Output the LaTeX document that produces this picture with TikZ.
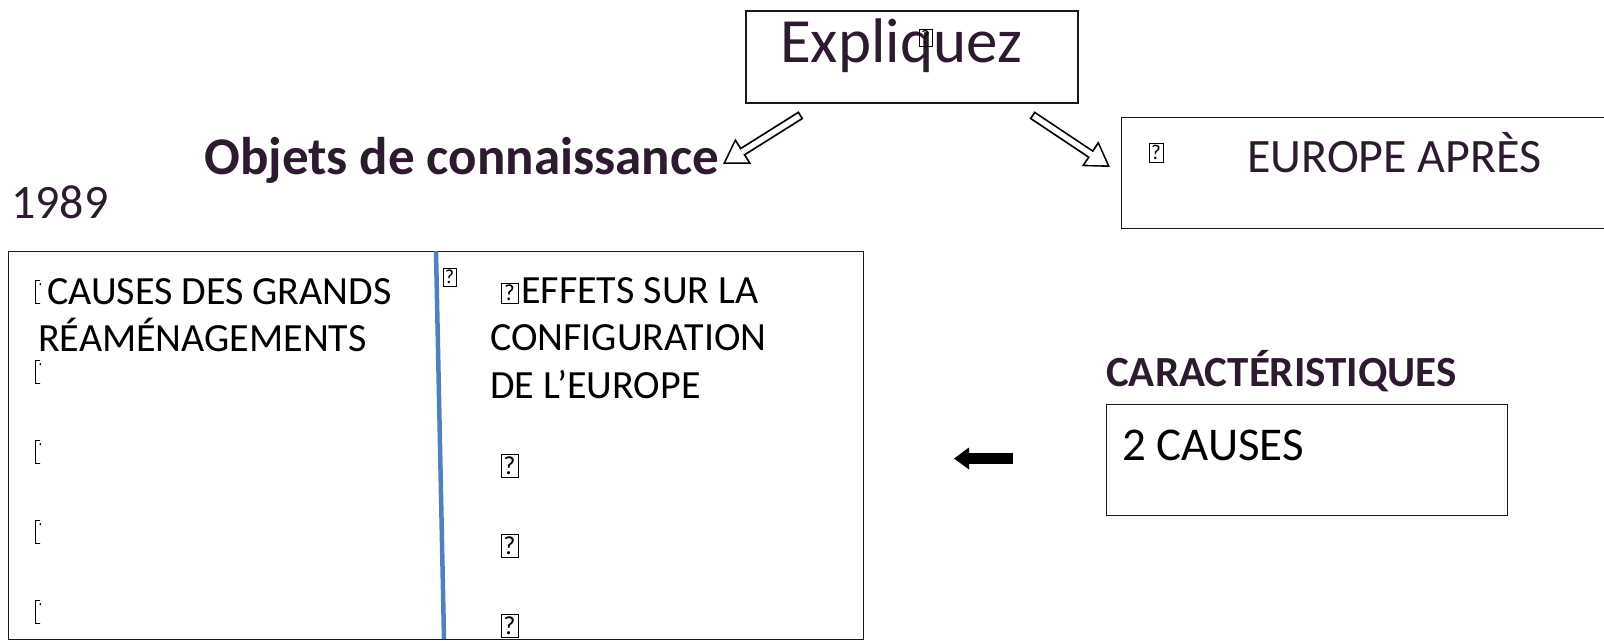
\documentclass[tikz,border=0pt]{standalone}
\usepackage{fontspec}
\setmainfont{Carlito}
\usetikzlibrary{arrows.meta,positioning,calc}
\definecolor{plum}{RGB}{46,26,48}
\definecolor{divblue}{RGB}{79,129,189}
\newcommand{\pxfont}[2]{\fontsize{#1}{#2}\selectfont}

\begin{document}
\begin{tikzpicture}[x=1pt, y=-1pt,
    frame/.style={draw=black!90, line width=1.4pt, inner sep=0pt},
    label/.style={inner sep=0pt, anchor=base west},
    tofu/.style={draw, line width=0.8pt, inner sep=0pt, minimum width=17pt,
        minimum height=23pt, font=\pxfont{26}{26}},
    hollow/.style={line width=9pt, -{Triangle[length=24pt,width=30pt,line width=0pt]},
        postaction={draw=white, line width=5.4pt, shorten <=1.8pt, shorten >=3.2pt,
        -{Triangle[length=19pt,width=24pt,line width=0pt]}}}]

    \useasboundingbox (0,0) rectangle (1604,640);

    % ---------------- Expliquez ----------------
    \node[frame, minimum width=332pt, minimum height=92pt] (explbox) at (912,57) {};
    \node[label, text=plum, font=\pxfont{63}{63}] (expl) at (780,62) {Expliquez};
    \node[tofu, minimum width=13pt, minimum height=17pt, font=\pxfont{19}{19}] (expltofu) at (925.5,37.5) {?};

    % ---------------- Objets / 1989 ----------------
    \node[label, text=plum, font=\bfseries\pxfont{53}{53}] (objets) at (204,174) {Objets de connaissance};
    \node[label, text=plum, font=\pxfont{48}{48}] (year) at (11,218) {1989};

    % ---------------- Europe après ----------------
    \node[frame, minimum width=490pt, minimum height=111pt, anchor=north west] (europebox) at (1121,117) {};
    \node[label, text=plum, font=\pxfont{48}{48}] (europe) at (1247,172) {EUROPE APRÈS};
    \node[tofu, minimum width=14pt, minimum height=19pt, font=\pxfont{21}{21}] (europetofu) at (1156,152.5) {?};

    % ---------------- Arrows ----------------
    \coordinate (lstart) at (801,115);
    \coordinate (ltip) at (723,164);
    \coordinate (rstart) at (1032,115);
    \coordinate (rtip) at (1110,167);
    \draw[hollow] (lstart) -- (ltip);
    \draw[hollow] (rstart) -- (rtip);

    % ---------------- Causes / Effets ----------------
    \node[frame, minimum width=855pt, minimum height=388pt, anchor=north west] (tablebox) at (8,251) {};
    \draw[divblue, line width=4.5pt] (436,251) -- (444,639);

    \node[label, font=\pxfont{40}{40}] (causes1) at (47,304) {CAUSES DES GRANDS};
    \node[label, font=\pxfont{40}{40}] (causes2) at (38,351) {RÉAMÉNAGEMENTS};
    \begin{scope}
        \clip (30,260) rectangle (40,635);
        \foreach \y [count=\i] in {292,372,452,532,612}
            \node[tofu] (lt\i) at (44,\y) {?};
    \end{scope}

    \node[tofu, minimum width=13pt, minimum height=18pt, font=\pxfont{20}{20}] (divtofu) at (449.5,277) {?};
    \node[tofu, minimum height=20pt, font=\pxfont{23}{23}] (et0) at (509.5,293) {?};
    \node[label, font=\pxfont{40}{40}] (effets1) at (521,303) {EFFETS SUR LA};
    \node[label, font=\pxfont{40}{40}] (effets2) at (490,350) {CONFIGURATION};
    \node[label, font=\pxfont{40}{40}] (effets3) at (490,398) {DE L’EUROPE};
    \foreach \y [count=\i] in {466,546,626}
        \node[tofu] (et\i) at (509.5,\y) {?};

    % ---------------- Caracteristiques ----------------
    \node[label, text=plum, font=\bfseries\pxfont{43}{43}] (carac) at (1106,386) {CARACTÉRISTIQUES};
    \node[frame, minimum width=401pt, minimum height=111pt, anchor=north west] (causesbox) at (1106,404) {};
    \node[label, font=\pxfont{47}{47}] (twocauses) at (1122,460) {2 CAUSES};

    \coordinate (sstart) at (1013,458.5);
    \coordinate (stip) at (954,458.5);
    \draw[line width=11pt, -{Triangle[length=15pt,width=22pt,line width=0pt]}] (sstart) -- (stip);

\end{tikzpicture}
\end{document}
